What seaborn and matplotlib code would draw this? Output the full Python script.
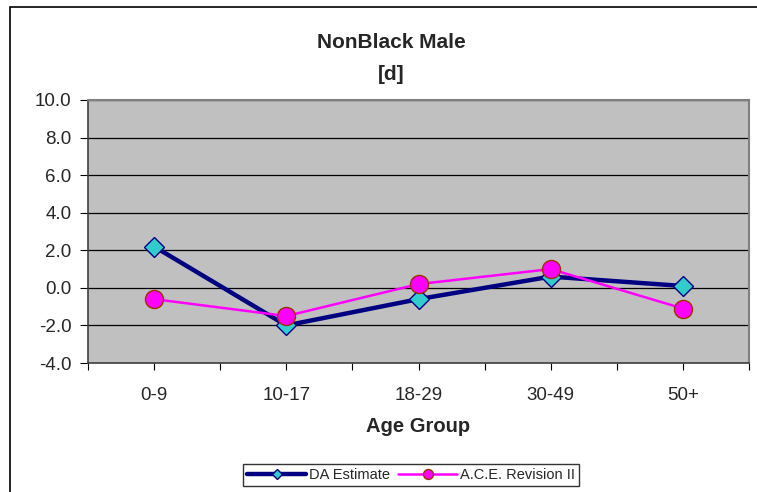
import seaborn as sns
import matplotlib.pyplot as plt
import matplotlib.patches as mpatches
import numpy as np
import pandas as pd

sns.set_theme(style="white")
plt.rcParams['font.family'] = ['Liberation Sans', 'DejaVu Sans']

# data
age_groups = ["0-9", "10-17", "18-29", "30-49", "50+"]
da_estimate = [2.2, -2.0, -0.6, 0.6, 0.1]
ace_rev2 = [-0.6, -1.5, 0.2, 1.0, -1.1]

df = pd.DataFrame({"age": age_groups, "da": da_estimate, "ace": ace_rev2})

fig = plt.figure(figsize=(7.57, 4.92), dpi=100)
ax = fig.add_axes([88/757, 1 - 363/492, 661/757, 263/492])
ax.set_facecolor("#C0C0C0")

sns.lineplot(data=df, x="age", y="da", ax=ax, sort=False, color="#000080",
             linewidth=3.2, marker="D", markersize=10, markerfacecolor="#33CCCC",
             markeredgecolor="#000080", markeredgewidth=1, label="DA Estimate")
sns.lineplot(data=df, x="age", y="ace", ax=ax, sort=False, color="#FF00FF",
             linewidth=1.8, marker="o", markersize=13, markerfacecolor="#FF00FF",
             markeredgecolor="#993300", markeredgewidth=1, label="A.C.E. Revision II")

ax.set_xlim(-0.5, 4.5)
ax.set_ylim(-4, 10)
ax.set_yticks(np.arange(-4, 10.1, 2))
ax.set_yticklabels([f"{v:.1f}" for v in np.arange(-4, 10.1, 2)])
ax.set_xticks(np.arange(-0.5, 4.6, 0.5))
ax.set_xticklabels(["" if i % 2 == 0 else age_groups[i // 2] for i in range(11)])
ax.yaxis.grid(True, color="black", linewidth=0.9)
ax.set_axisbelow(True)

ax.tick_params(axis="y", direction="out", length=6, width=0.8, color="black",
               labelsize=13.5, pad=6, left=True)
ax.tick_params(axis="x", direction="out", length=5, width=0.8, color="black",
               labelsize=13.5, pad=12, bottom=True)
for s in ["top", "right"]:
    ax.spines[s].set_color("#808080")
    ax.spines[s].set_linewidth(1.5)
for s in ["left", "bottom"]:
    ax.spines[s].set_color("#404040")
    ax.spines[s].set_linewidth(1.2)

ax.set_xlabel("Age Group", fontsize=14.5, fontweight="bold", labelpad=10)
ax.set_ylabel("")

fig.text(391/757, 1 - 43/492, "NonBlack Male", ha="center", va="center",
         fontsize=15, fontweight="bold")
fig.text(391/757, 1 - 74/492, "[d]", ha="center", va="center",
         fontsize=15, fontweight="bold")

ax.get_legend().remove()
handles, labels = ax.get_legend_handles_labels()
leg = fig.legend(handles, labels, loc="center", bbox_to_anchor=(411/757, 1 - 475/492),
                 ncol=2, fontsize=10.5, frameon=True, fancybox=False, shadow=False,
                 handlelength=4, handletextpad=0.2, columnspacing=0.6,
                 borderpad=0.3, markerscale=0.55)
leg.get_frame().set_edgecolor("black")
leg.get_frame().set_linewidth(1.0)

# outer chart border (cut off at right/bottom)
fig.patches.append(mpatches.Rectangle((10/757, -0.1), 1.0, 1 - 7/492 + 0.1,
                                      transform=fig.transFigure, fill=False,
                                      edgecolor="black", linewidth=1.2))

fig.savefig("out.png", dpi=100)
